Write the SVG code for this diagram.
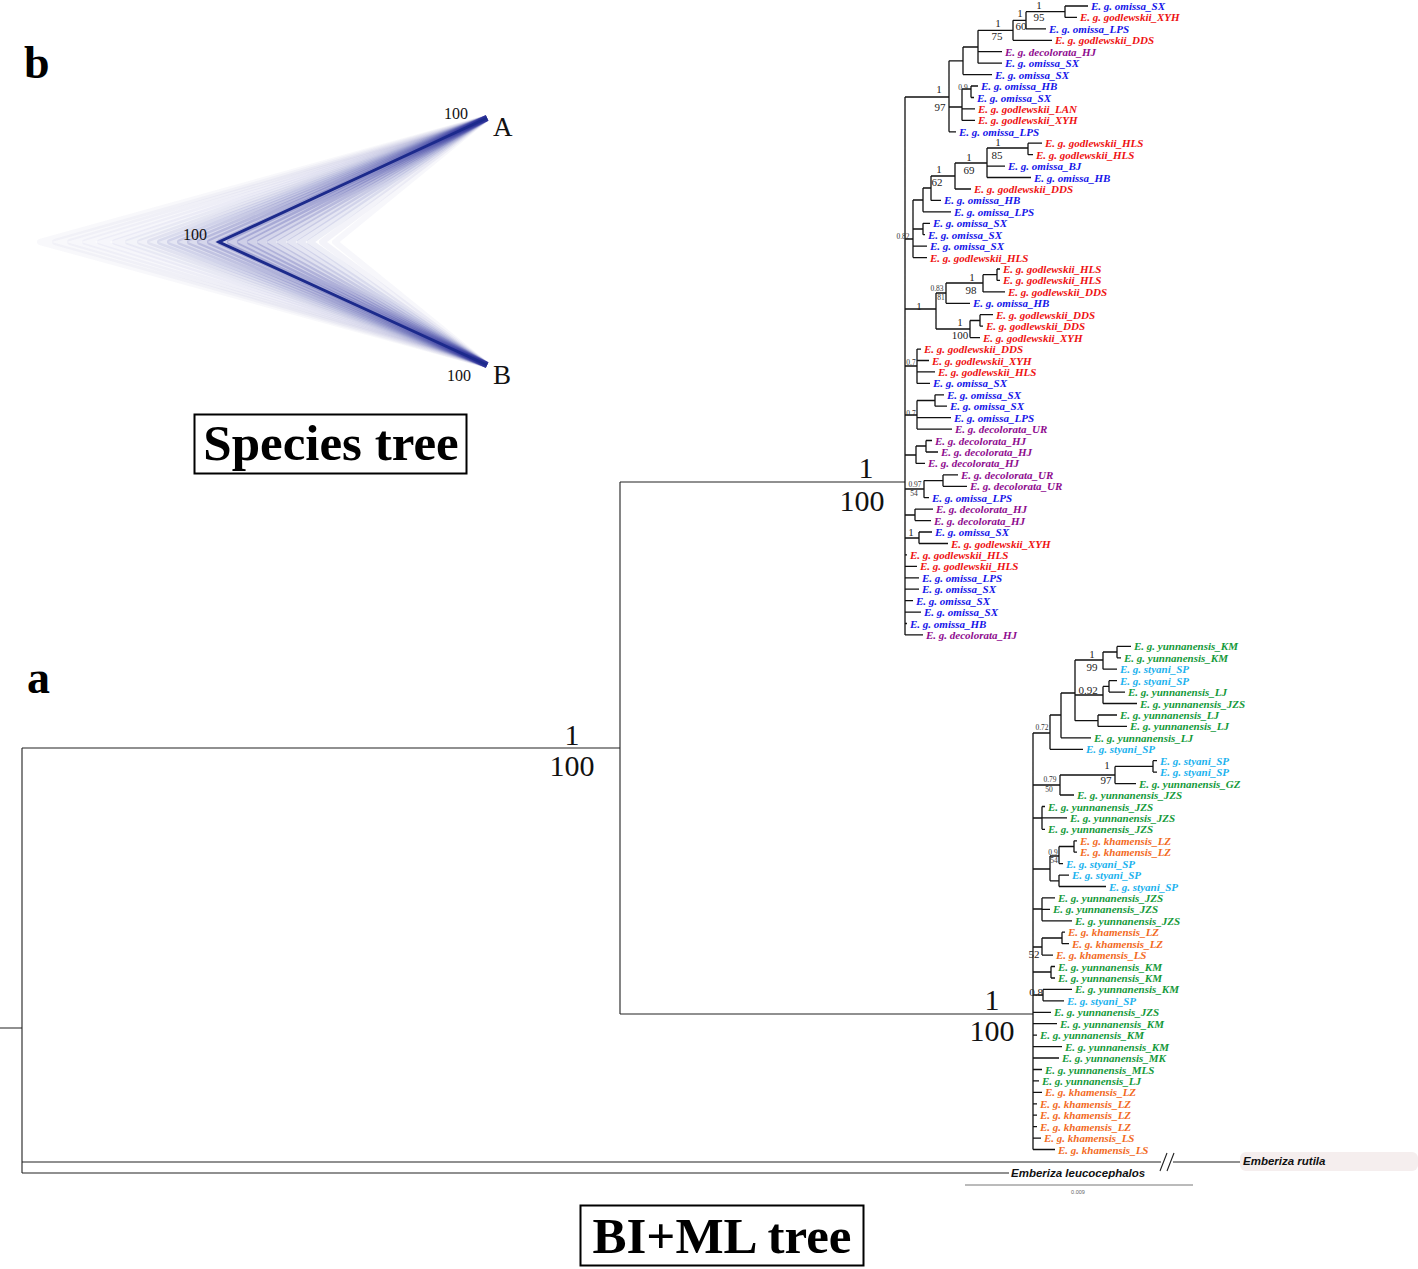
<svg xmlns="http://www.w3.org/2000/svg" width="1418" height="1269" viewBox="0 0 1418 1269">
<style>
.br{fill:none;stroke:#111;stroke-width:1.3}
.mn{fill:none;stroke:#222;stroke-width:1.1}
.t{font-family:"Liberation Serif",serif;font-weight:bold;font-style:italic;font-size:11px}
.o{fill:#1414e8}.g{fill:#ee1111}.d{fill:#8e0b8e}.y{fill:#14993a}.s{fill:#1ab2ee}.k{fill:#f26a1e}
.sp{font-family:"Liberation Serif",serif;font-size:11px;text-anchor:middle;fill:#222}
.sm{font-family:"Liberation Serif",serif;font-size:7.5px;text-anchor:middle;fill:#333}
.big{font-family:"Liberation Serif",serif;font-size:30px;text-anchor:middle;fill:#111}
.ttl{font-family:"Liberation Serif",serif;font-weight:bold;font-size:51px;text-anchor:middle;fill:#000}
.pl{font-family:"Liberation Serif",serif;font-weight:bold;font-size:46px;fill:#000}
.cl{fill:none;stroke:#2b2f9a;stroke-width:6;stroke-linejoin:round}
.st{font-family:"Liberation Serif",serif;font-size:16px;text-anchor:middle;fill:#111}
.ab{font-family:"Liberation Serif",serif;font-size:27px;fill:#111}
.og{font-family:"Liberation Sans",sans-serif;font-weight:bold;font-style:italic;font-size:11.5px;fill:#111}
</style>

<!-- species tree (panel b) -->
<g id="species-tree">
<text class="pl" x="24" y="78">b</text>
<g id="cloud">
<polyline class="cl" stroke-opacity="0.035" points="487,118 40,242 487,365"/>
<polyline class="cl" stroke-opacity="0.035" points="487,118 55,242 487,365"/>
<polyline class="cl" stroke-opacity="0.04" points="487,118 70,242 487,365"/>
<polyline class="cl" stroke-opacity="0.04" points="487,118 85,242 487,365"/>
<polyline class="cl" stroke-opacity="0.045" points="487,118 100,242 487,365"/>
<polyline class="cl" stroke-opacity="0.05" points="487,118 115,242 487,365"/>
<polyline class="cl" stroke-opacity="0.055" points="487,118 128,242 487,365"/>
<polyline class="cl" stroke-opacity="0.065" points="487,118 140,242 487,365"/>
<polyline class="cl" stroke-opacity="0.08" points="487,118 150,242 487,365"/>
<polyline class="cl" stroke-opacity="0.1" points="487,118 160,242 487,365"/>
<polyline class="cl" stroke-opacity="0.12" points="487,118 170,242 487,365"/>
<polyline class="cl" stroke-opacity="0.145" points="487,118 180,242 487,365"/>
<polyline class="cl" stroke-opacity="0.17" points="487,118 190,242 487,365"/>
<polyline class="cl" stroke-opacity="0.195" points="487,118 200,242 487,365"/>
<polyline class="cl" stroke-opacity="0.215" points="487,118 210,242 487,365"/>
<polyline class="cl" stroke-opacity="0.23" points="487,118 220,242 487,365"/>
<polyline class="cl" stroke-opacity="0.235" points="487,118 230,242 487,365"/>
<polyline class="cl" stroke-opacity="0.23" points="487,118 240,242 487,365"/>
<polyline class="cl" stroke-opacity="0.215" points="487,118 250,242 487,365"/>
<polyline class="cl" stroke-opacity="0.195" points="487,118 260,242 487,365"/>
<polyline class="cl" stroke-opacity="0.17" points="487,118 270,242 487,365"/>
<polyline class="cl" stroke-opacity="0.145" points="487,118 280,242 487,365"/>
<polyline class="cl" stroke-opacity="0.12" points="487,118 290,242 487,365"/>
<polyline class="cl" stroke-opacity="0.1" points="487,118 300,242 487,365"/>
<polyline class="cl" stroke-opacity="0.08" points="487,118 310,242 487,365"/>
<polyline class="cl" stroke-opacity="0.06" points="487,118 322,242 487,365"/>
<polyline class="cl" stroke-opacity="0.04" points="487,118 335,242 487,365"/>
</g>
<polyline fill="none" stroke="#1c2a8c" stroke-width="3" stroke-linejoin="miter" points="487,118 219,242 487,365"/>
<text class="st" x="456" y="119">100</text>
<text class="st" x="195" y="240">100</text>
<text class="st" x="459" y="381">100</text>
<text class="ab" x="493" y="136">A</text>
<text class="ab" x="493" y="384">B</text>
</g>
<g id="species-tree-title">
<rect x="194.5" y="414.5" width="272" height="59" fill="#fff" stroke="#000" stroke-width="2"/>
<text class="ttl" x="331" y="460">Species tree</text>
</g>

<text class="pl" x="27" y="693">a</text>

<!-- connectors -->
<g id="connectors">
<path class="mn" d="M0 1028 H22 M22 748 V1173 M22 748 H620 M620 482 V1014 M620 482 H905 M620 1014 H1033 M22 1162 H1161 M1173 1162 H1240 M22 1173 H1009 M1160 1171 L1167 1153 M1167 1171 L1174 1153"/>
<path class="br" d="M905 97 V634.9
M905 97 H949 M949 60.8 V131.8 M949 60.8 H963 M963 47 V74.6 M963 47 H978 M978 30.3 V63.2 M978 30.3 H1013 M1013 20.3 V40.3 M1013 20.3 H1026 M1026 11.7 V28.9 M1026 11.7 H1065 M1065 6 V17.4 M1065 6 H1088 M1065 17.4 H1077 M1026 28.9 H1046 M1013 40.3 H1052 M978 51.7 H1002 M978 63.2 H1002 M963 74.6 H992 M949 107 H962 M962 89 V120.4 M962 89 H971 M971 86 V97.5 M971 86 H978 M971 97.5 H974 M962 108.9 H975 M962 120.4 H975 M949 131.8 H956
M905 239 H913 M913 200 V257.6 M913 200 H923 M923 188 V211.8 M923 188 H931 M931 176 V200.4 M931 176 H955 M955 163 V189 M955 163 H987 M987 148 V177.5 M987 148 H1028 M1028 143.2 V154.7 M1028 143.2 H1042 M1028 154.7 H1033 M987 166.1 H1005 M987 177.5 H1031 M955 189 H971 M931 200.4 H941 M923 211.8 H951 M913 229 H923 M923 223.3 V234.7 M923 223.3 H930 M923 234.7 H925 M913 246.1 H927 M913 257.6 H927
M905 309 H936 M936 293 V329 M936 293 H946 M946 283 V303.3 M946 283 H983 M983 274.7 V291.9 M983 274.7 H997 M997 269 V280.4 M997 269 H1000 M997 280.4 H1000 M983 291.9 H1005 M946 303.3 H970 M936 329 H970 M970 320.5 V337.6 M970 320.5 H980 M980 314.7 V326.2 M980 314.7 H993 M980 326.2 H983 M970 337.6 H980
M905 366 H917 M917 349.1 V383.4 M917 349.1 H921 M917 360.5 H929 M917 371.9 H935 M917 383.4 H930
M905 415 H917 M917 400.5 V429.1 M917 400.5 H935 M935 394.8 V406.2 M935 394.8 H944 M935 406.2 H947 M917 417.7 H951 M917 429.1 H952
M905 455 H916 M916 446 V463.4 M916 446 H926 M926 440.5 V452 M926 440.5 H932 M926 452 H938 M916 463.4 H925
M905 489 H924 M924 480.6 V497.7 M924 480.6 H943 M943 474.9 V486.3 M943 474.9 H958 M943 486.3 H967 M924 497.7 H929
M905 515 H915 M915 509.1 V520.6 M915 509.1 H933 M915 520.6 H931
M905 538 H919 M919 532 V543.5 M919 532 H932 M919 543.5 H948
M905 554.9 H907 M905 566.3 H917 M905 577.8 H919 M905 589.2 H919 M905 600.6 H913 M905 612.1 H921 M905 623.5 H907 M905 634.9 H923"/>
<path class="br" d="M1033 733 V1149.5
M1033 733 H1050 M1050 715 V749.3 M1050 715 H1061 M1061 693 V737.8 M1061 693 H1075 M1075 660 V720.7 M1075 660 H1103 M1103 652 V669.2 M1103 652 H1117 M1117 646.4 V657.8 M1117 646.4 H1131 M1117 657.8 H1121 M1103 669.2 H1117 M1075 695 H1103 M1103 686.4 V703.5 M1103 686.4 H1109 M1109 680.7 V692.1 M1109 680.7 H1117 M1109 692.1 H1125 M1103 703.5 H1137 M1075 720.7 H1098 M1098 715 V726.4 M1098 715 H1117 M1098 726.4 H1127 M1061 737.8 H1091 M1050 749.3 H1083
M1033 785 H1060 M1060 775 V795 M1060 775 H1115 M1115 766.4 V783.6 M1115 766.4 H1153 M1153 760.7 V772.1 M1153 760.7 H1157 M1153 772.1 H1157 M1115 783.6 H1136 M1060 795 H1074
M1033 818 H1042 M1042 806.5 V829.3 M1042 806.5 H1045 M1042 817.9 H1067 M1042 829.3 H1045
M1033 869 H1050 M1050 856 V880.8 M1050 856 H1059 M1059 846.5 V863.6 M1059 846.5 H1074 M1074 840.8 V852.2 M1074 840.8 H1077 M1074 852.2 H1077 M1059 863.6 H1063 M1050 880.8 H1059 M1059 875.1 V886.5 M1059 875.1 H1069 M1059 886.5 H1106
M1033 909 H1042 M1042 897.9 V920.8 M1042 897.9 H1055 M1042 909.4 H1050 M1042 920.8 H1072
M1033 947 H1042 M1042 938 V955.1 M1042 938 H1062 M1062 932.2 V943.7 M1062 932.2 H1065 M1062 943.7 H1069 M1042 955.1 H1053
M1033 972 H1051 M1051 966.5 V978 M1051 966.5 H1055 M1051 978 H1055
M1033 995 H1043 M1043 989.4 V1000.8 M1043 989.4 H1072 M1043 1000.8 H1064
M1033 1012.3 H1051 M1033 1023.7 H1057 M1033 1035.2 H1037 M1033 1046.6 H1062 M1033 1058 H1059 M1033 1069.5 H1042 M1033 1080.9 H1039 M1033 1092.3 H1042 M1033 1103.8 H1037 M1033 1115.2 H1037 M1033 1126.6 H1037 M1033 1138.1 H1041 M1033 1149.5 H1055"/>
<path d="M965 1185 H1193" stroke="#777" stroke-width="1" fill="none"/>
</g>

<!-- support values -->
<g id="support">
<text class="big" x="572" y="745">1</text>
<text class="big" x="572" y="776">100</text>
<text class="big" x="866" y="478">1</text>
<text class="big" x="862" y="511">100</text>
<text class="big" x="992" y="1010">1</text>
<text class="big" x="992" y="1041">100</text>
<text class="sp" x="1039" y="9">1</text><text class="sp" x="1039" y="21">95</text>
<text class="sp" x="1020" y="17">1</text><text class="sp" x="1021" y="30">60</text>
<text class="sp" x="998" y="27">1</text><text class="sp" x="997" y="40">75</text>
<text class="sm" x="963" y="90">0.9</text>
<text class="sp" x="939" y="93">1</text><text class="sp" x="940" y="111">97</text>
<text class="sp" x="998" y="146">1</text><text class="sp" x="997" y="159">85</text>
<text class="sp" x="969" y="161">1</text><text class="sp" x="969" y="174">69</text>
<text class="sp" x="939" y="173">1</text><text class="sp" x="937" y="186">62</text>
<text class="sm" x="903" y="239">0.82</text>
<text class="sp" x="972" y="281">1</text><text class="sp" x="971" y="294">98</text>
<text class="sm" x="937" y="291">0.83</text><text class="sm" x="941" y="300">81</text>
<text class="sp" x="919" y="310">1</text>
<text class="sp" x="960" y="326">1</text><text class="sp" x="960" y="339">100</text>
<text class="sm" x="911" y="365">0.7</text>
<text class="sm" x="911" y="416">0.7</text>
<text class="sm" x="915" y="487">0.97</text><text class="sm" x="914" y="496">54</text>
<text class="sp" x="911" y="536">1</text>
<text class="sp" x="1092" y="658">1</text><text class="sp" x="1092" y="671">99</text>
<text class="sp" x="1088" y="694">0.92</text>
<text class="sm" x="1042" y="730">0.72</text>
<text class="sp" x="1107" y="769">1</text><text class="sp" x="1106" y="784">97</text>
<text class="sm" x="1050" y="782">0.79</text><text class="sm" x="1049" y="792">50</text>
<text class="sm" x="1053" y="855">0.9</text><text class="sm" x="1054" y="863">54</text>
<text class="sp" x="1034" y="958">52</text>
<text class="sp" x="1036" y="996">0.8</text>
<text x="1078" y="1194" font-family="Liberation Sans,sans-serif" font-size="5.5" fill="#666" text-anchor="middle">0.009</text>
</g>

<!-- tips -->
<g id="tips" class="t">
<text id="t0" class="o" x="1091" y="10">E. g. omissa_SX</text>
<text id="t1" class="g" x="1080" y="21.4">E. g. godlewskii_XYH</text>
<text id="t2" class="o" x="1049" y="32.9">E. g. omissa_LPS</text>
<text id="t3" class="g" x="1055" y="44.3">E. g. godlewskii_DDS</text>
<text id="t4" class="d" x="1005" y="55.7">E. g. decolorata_HJ</text>
<text id="t5" class="o" x="1005" y="67.2">E. g. omissa_SX</text>
<text id="t6" class="o" x="995" y="78.6">E. g. omissa_SX</text>
<text id="t7" class="o" x="981" y="90">E. g. omissa_HB</text>
<text id="t8" class="o" x="977" y="101.5">E. g. omissa_SX</text>
<text id="t9" class="g" x="978" y="112.9">E. g. godlewskii_LAN</text>
<text id="t10" class="g" x="978" y="124.4">E. g. godlewskii_XYH</text>
<text id="t11" class="o" x="959" y="135.8">E. g. omissa_LPS</text>
<text id="t12" class="g" x="1045" y="147.2">E. g. godlewskii_HLS</text>
<text id="t13" class="g" x="1036" y="158.7">E. g. godlewskii_HLS</text>
<text id="t14" class="o" x="1008" y="170.1">E. g. omissa_BJ</text>
<text id="t15" class="o" x="1034" y="181.5">E. g. omissa_HB</text>
<text id="t16" class="g" x="974" y="193">E. g. godlewskii_DDS</text>
<text id="t17" class="o" x="944" y="204.4">E. g. omissa_HB</text>
<text id="t18" class="o" x="954" y="215.8">E. g. omissa_LPS</text>
<text id="t19" class="o" x="933" y="227.3">E. g. omissa_SX</text>
<text id="t20" class="o" x="928" y="238.7">E. g. omissa_SX</text>
<text id="t21" class="o" x="930" y="250.1">E. g. omissa_SX</text>
<text id="t22" class="g" x="930" y="261.6">E. g. godlewskii_HLS</text>
<text id="t23" class="g" x="1003" y="273">E. g. godlewskii_HLS</text>
<text id="t24" class="g" x="1003" y="284.4">E. g. godlewskii_HLS</text>
<text id="t25" class="g" x="1008" y="295.9">E. g. godlewskii_DDS</text>
<text id="t26" class="o" x="973" y="307.3">E. g. omissa_HB</text>
<text id="t27" class="g" x="996" y="318.7">E. g. godlewskii_DDS</text>
<text id="t28" class="g" x="986" y="330.2">E. g. godlewskii_DDS</text>
<text id="t29" class="g" x="983" y="341.6">E. g. godlewskii_XYH</text>
<text id="t30" class="g" x="924" y="353.1">E. g. godlewskii_DDS</text>
<text id="t31" class="g" x="932" y="364.5">E. g. godlewskii_XYH</text>
<text id="t32" class="g" x="938" y="375.9">E. g. godlewskii_HLS</text>
<text id="t33" class="o" x="933" y="387.4">E. g. omissa_SX</text>
<text id="t34" class="o" x="947" y="398.8">E. g. omissa_SX</text>
<text id="t35" class="o" x="950" y="410.2">E. g. omissa_SX</text>
<text id="t36" class="o" x="954" y="421.7">E. g. omissa_LPS</text>
<text id="t37" class="d" x="955" y="433.1">E. g. decolorata_UR</text>
<text id="t38" class="d" x="935" y="444.5">E. g. decolorata_HJ</text>
<text id="t39" class="d" x="941" y="456">E. g. decolorata_HJ</text>
<text id="t40" class="d" x="928" y="467.4">E. g. decolorata_HJ</text>
<text id="t41" class="d" x="961" y="478.9">E. g. decolorata_UR</text>
<text id="t42" class="d" x="970" y="490.3">E. g. decolorata_UR</text>
<text id="t43" class="o" x="932" y="501.7">E. g. omissa_LPS</text>
<text id="t44" class="d" x="936" y="513.1">E. g. decolorata_HJ</text>
<text id="t45" class="d" x="934" y="524.6">E. g. decolorata_HJ</text>
<text id="t46" class="o" x="935" y="536">E. g. omissa_SX</text>
<text id="t47" class="g" x="951" y="547.5">E. g. godlewskii_XYH</text>
<text id="t48" class="g" x="910" y="558.9">E. g. godlewskii_HLS</text>
<text id="t49" class="g" x="920" y="570.3">E. g. godlewskii_HLS</text>
<text id="t50" class="o" x="922" y="581.8">E. g. omissa_LPS</text>
<text id="t51" class="o" x="922" y="593.2">E. g. omissa_SX</text>
<text id="t52" class="o" x="916" y="604.6">E. g. omissa_SX</text>
<text id="t53" class="o" x="924" y="616.1">E. g. omissa_SX</text>
<text id="t54" class="o" x="910" y="627.5">E. g. omissa_HB</text>
<text id="t55" class="d" x="926" y="638.9">E. g. decolorata_HJ</text>
<text id="t56" class="y" x="1134" y="650.4">E. g. yunnanensis_KM</text>
<text id="t57" class="y" x="1124" y="661.8">E. g. yunnanensis_KM</text>
<text id="t58" class="s" x="1120" y="673.2">E. g. styani_SP</text>
<text id="t59" class="s" x="1120" y="684.7">E. g. styani_SP</text>
<text id="t60" class="y" x="1128" y="696.1">E. g. yunnanensis_LJ</text>
<text id="t61" class="y" x="1140" y="707.5">E. g. yunnanensis_JZS</text>
<text id="t62" class="y" x="1120" y="719">E. g. yunnanensis_LJ</text>
<text id="t63" class="y" x="1130" y="730.4">E. g. yunnanensis_LJ</text>
<text id="t64" class="y" x="1094" y="741.8">E. g. yunnanensis_LJ</text>
<text id="t65" class="s" x="1086" y="753.3">E. g. styani_SP</text>
<text id="t66" class="s" x="1160" y="764.7">E. g. styani_SP</text>
<text id="t67" class="s" x="1160" y="776.1">E. g. styani_SP</text>
<text id="t68" class="y" x="1139" y="787.6">E. g. yunnanensis_GZ</text>
<text id="t69" class="y" x="1077" y="799">E. g. yunnanensis_JZS</text>
<text id="t70" class="y" x="1048" y="810.5">E. g. yunnanensis_JZS</text>
<text id="t71" class="y" x="1070" y="821.9">E. g. yunnanensis_JZS</text>
<text id="t72" class="y" x="1048" y="833.3">E. g. yunnanensis_JZS</text>
<text id="t73" class="k" x="1080" y="844.8">E. g. khamensis_LZ</text>
<text id="t74" class="k" x="1080" y="856.2">E. g. khamensis_LZ</text>
<text id="t75" class="s" x="1066" y="867.6">E. g. styani_SP</text>
<text id="t76" class="s" x="1072" y="879.1">E. g. styani_SP</text>
<text id="t77" class="s" x="1109" y="890.5">E. g. styani_SP</text>
<text id="t78" class="y" x="1058" y="901.9">E. g. yunnanensis_JZS</text>
<text id="t79" class="y" x="1053" y="913.4">E. g. yunnanensis_JZS</text>
<text id="t80" class="y" x="1075" y="924.8">E. g. yunnanensis_JZS</text>
<text id="t81" class="k" x="1068" y="936.2">E. g. khamensis_LZ</text>
<text id="t82" class="k" x="1072" y="947.7">E. g. khamensis_LZ</text>
<text id="t83" class="k" x="1056" y="959.1">E. g. khamensis_LS</text>
<text id="t84" class="y" x="1058" y="970.5">E. g. yunnanensis_KM</text>
<text id="t85" class="y" x="1058" y="982">E. g. yunnanensis_KM</text>
<text id="t86" class="y" x="1075" y="993.4">E. g. yunnanensis_KM</text>
<text id="t87" class="s" x="1067" y="1004.8">E. g. styani_SP</text>
<text id="t88" class="y" x="1054" y="1016.3">E. g. yunnanensis_JZS</text>
<text id="t89" class="y" x="1060" y="1027.7">E. g. yunnanensis_KM</text>
<text id="t90" class="y" x="1040" y="1039.2">E. g. yunnanensis_KM</text>
<text id="t91" class="y" x="1065" y="1050.6">E. g. yunnanensis_KM</text>
<text id="t92" class="y" x="1062" y="1062">E. g. yunnanensis_MK</text>
<text id="t93" class="y" x="1045" y="1073.5">E. g. yunnanensis_MLS</text>
<text id="t94" class="y" x="1042" y="1084.9">E. g. yunnanensis_LJ</text>
<text id="t95" class="k" x="1045" y="1096.3">E. g. khamensis_LZ</text>
<text id="t96" class="k" x="1040" y="1107.8">E. g. khamensis_LZ</text>
<text id="t97" class="k" x="1040" y="1119.2">E. g. khamensis_LZ</text>
<text id="t98" class="k" x="1040" y="1130.6">E. g. khamensis_LZ</text>
<text id="t99" class="k" x="1044" y="1142.1">E. g. khamensis_LS</text>
<text id="t100" class="k" x="1058" y="1153.5">E. g. khamensis_LS</text>
</g>

<g id="outgroups">
<rect x="1240" y="1152" width="178" height="19" rx="6" fill="#f5eeee"/>
<text class="og" x="1243" y="1165">Emberiza rutila</text>
<text class="og" x="1011" y="1177">Emberiza leucocephalos</text>
</g>

<g id="bi-ml-title">
<rect x="580.5" y="1205.5" width="283" height="60" fill="#fff" stroke="#000" stroke-width="2"/>
<text class="ttl" x="722" y="1253">BI+ML tree</text>
</g>
</svg>
